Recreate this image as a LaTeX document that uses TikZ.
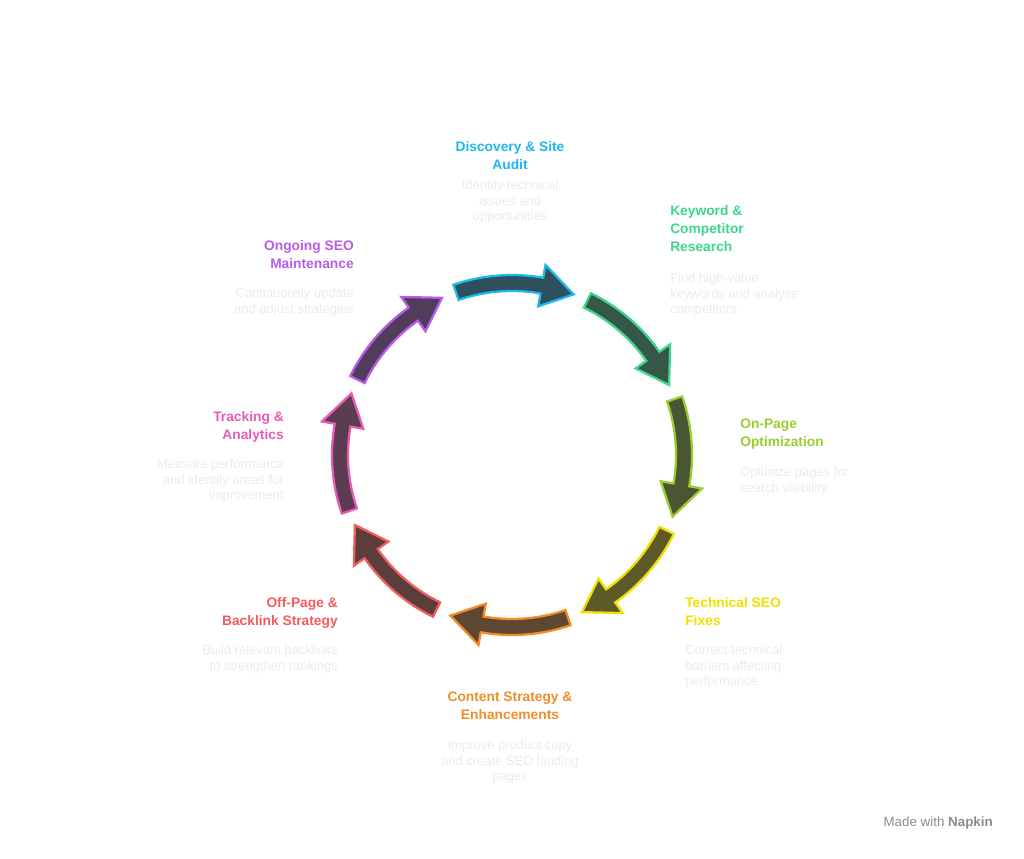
\documentclass[tikz,border=0pt]{standalone}
\usepackage{fontspec}
\setmainfont{Liberation Sans}
\definecolor{cDisc}{HTML}{1EB8F0}
\definecolor{cKey}{HTML}{3DD68C}
\definecolor{cOnp}{HTML}{9ACD32}
\definecolor{cTech}{HTML}{F0E000}
\definecolor{cCont}{HTML}{F28C28}
\definecolor{cOff}{HTML}{F25C5C}
\definecolor{cTrack}{HTML}{E85BB5}
\definecolor{cOngo}{HTML}{B85CE8}
\definecolor{shade}{HTML}{333333}
\definecolor{desc}{HTML}{EBEBEB}
\tikzset{
  title/.style={font=\bfseries\fontsize{9.8}{12.8}\selectfont, inner sep=0pt},
  note/.style={text=desc, font=\fontsize{9.2}{11.1}\selectfont, inner sep=0pt},
}
\begin{document}
\begin{tikzpicture}[x=0.025cm,y=0.025cm]
\useasboundingbox (0,0) rectangle (1024,859);
\coordinate (c) at (512,404);
% arrows of the cycle
\foreach \mid/\col in {90/cDisc,45/cKey,0/cOnp,-45/cTech,-90/cCont,-135/cOff,-180/cTrack,-225/cOngo}{
  \pgfmathsetmacro\s{\mid+19}
  \pgfmathsetmacro\e{\mid-21}
  \pgfmathsetmacro\h{\mid-10}
  \draw[\col, line width=1.6pt, line join=miter, fill=\col!22!shade]
    ([shift={(\s:180)}]c) arc[start angle=\s, end angle=\h, radius=180]
    -- ([shift={(\h:193)}]c) -- ([shift={(\e:172)}]c) -- ([shift={(\h:151)}]c)
    -- ([shift={(\h:164)}]c) arc[start angle=\h, end angle=\s, radius=164] -- cycle;
}
% labels
\node[title, text=cDisc, align=center] (t1) at (510,703) {Discovery \& Site\\Audit};
\node[note, align=center] (d1) at (510,657) {Identify technical\\issues and\\opportunities};
\node[title, text=cKey, align=left, anchor=north west] (t2) at (670,654) {Keyword \&\\Competitor\\Research};
\node[note, align=left, anchor=north west] (d2) at (670,586) {Find high-value\\keywords and analyze\\competitors};
\node[title, text=cOnp, align=left, anchor=north west] (t3) at (740,440) {On-Page\\Optimization};
\node[note, align=left, anchor=north west] (d3) at (740,392) {Optimize pages for\\search visibility};
\node[title, text=cTech, align=left, anchor=north west] (t4) at (685,262) {Technical SEO\\Fixes};
\node[note, align=left, anchor=north west] (d4) at (685,214) {Correct technical\\barriers affecting\\performance};
\node[title, text=cCont, align=center] (t5) at (510,153) {Content Strategy \&\\Enhancements};
\node[note, align=center] (d5) at (510,97) {Improve product copy\\and create SEO landing\\pages};
\node[title, text=cOff, align=right, anchor=north east] (t6) at (338,262) {Off-Page \&\\Backlink Strategy};
\node[note, align=right, anchor=north east] (d6) at (338,214) {Build relevant backlinks\\to strengthen rankings};
\node[title, text=cTrack, align=right, anchor=north east] (t7) at (284,448) {Tracking \&\\Analytics};
\node[note, align=right, anchor=north east] (d7) at (284,400) {Measure performance\\and identify areas for\\improvement};
\node[title, text=cOngo, align=right, anchor=north east] (t8) at (354,619) {Ongoing SEO\\Maintenance};
\node[note, align=right, anchor=north east] (d8) at (354,571) {Continuously update\\and adjust strategies};
\node[text=black!45, font=\fontsize{9.5}{11}\selectfont, anchor=east, inner sep=0pt] (mark) at (993,36) {Made with \bfseries Napkin};
\end{tikzpicture}
\end{document}
